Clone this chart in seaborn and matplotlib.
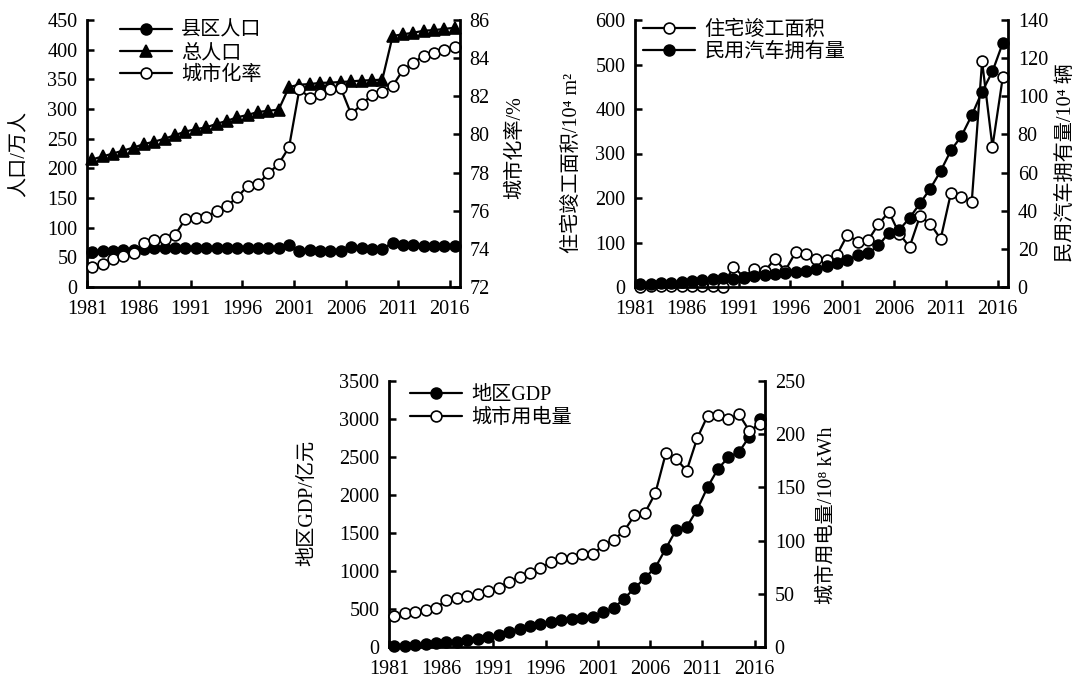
import matplotlib
matplotlib.use("Agg")
import matplotlib.pyplot as plt
import seaborn as sns

# ---- data (1981-2016) ----
years = list(range(1981, 2017))
tick_years = [1981, 1986, 1991, 1996, 2001, 2006, 2011, 2016]

# 县区人口 / 万人
county_pop = [58.5, 60, 61, 62.5, 63, 64, 65, 65.5, 65.5, 65.5,
              65.5, 66, 66, 66, 66.5, 66.5, 66.5, 66, 66, 71.5,
              60, 62, 61.5, 61, 60.5, 67, 66, 64.5, 63.5, 75,
              71.5, 70, 69.5, 69, 68.5, 69.5]
# 总人口 / 万人
total_pop = [215, 220, 225, 230, 235, 241, 245, 250, 256, 262,
             266, 269, 275, 280, 286, 290, 295, 297, 299, 337,
             341, 342, 344, 344.5, 345.5, 346.5, 348, 348.5, 349.5, 423,
             426, 428.5, 432, 433, 435, 437]
# 城市化率 / %
urban_rate = [73.06, 73.2, 73.47, 73.64, 73.77, 74.32, 74.46, 74.5, 74.73, 75.57,
              75.6, 75.65, 76.0, 76.25, 76.7, 77.3, 77.38, 77.96, 78.45, 79.33,
              82.38, 81.93, 82.12, 82.38, 82.42, 81.06, 81.58, 82.07, 82.24, 82.54,
              83.38, 83.76, 84.13, 84.29, 84.43, 84.6]
# 住宅竣工面积 / 10^4 m^2
housing_area = [1.0, 1.2, 1.5, 1.8, 2.0, 2.2, 2.5, 2.0, 0.5, 46,
                22, 41, 35, 63, 37, 78, 74, 62, 61, 73,
                117, 102, 105, 141, 169, 120, 90, 159, 142, 108,
                212, 202, 191, 507, 315, 472]
# 民用汽车拥有量 / 10^4 辆
vehicles = [1.5, 1.7, 2.0, 2.3, 2.8, 3.1, 3.5, 4.0, 4.6, 4.4,
            4.8, 5.7, 6.4, 7.0, 7.4, 7.9, 8.3, 9.5, 10.8, 12.5,
            14.0, 16.8, 17.6, 21.8, 28.3, 29.9, 36.2, 43.8, 51.6, 60.8,
            71.7, 79.1, 90.0, 102.4, 113.0, 128.0]
# 地区GDP / 亿元
gdp = [17, 17, 26, 39, 48, 61, 70, 92, 105, 127,
       157, 192, 231, 270, 300, 325, 350, 368, 382, 400,
       455, 507, 638, 770, 910, 1045, 1295, 1544, 1579, 1807,
       2103, 2344, 2497, 2563, 2768, 3000]
# 城市用电量 / 10^8 kWh
electricity = [29, 31.5, 33, 34.6, 36.8, 44, 45.6, 47.8, 49.6, 52.7,
               55.9, 61.2, 65.9, 69.6, 74.6, 79.5, 83.3, 84, 87, 87,
               95.5, 100.8, 108.9, 123.6, 126.1, 144.5, 181.9, 176.7, 165.7, 196,
               217.2, 217.8, 214.1, 218.8, 203.2, 209.4]

# ---- style ----
sns.set_theme(style="white")
plt.rcParams["font.family"] = ["Liberation Serif", "Noto Sans CJK SC", "DejaVu Serif"]
plt.rcParams["axes.unicode_minus"] = False
plt.rcParams["axes.edgecolor"] = "black"
plt.rcParams["text.color"] = "black"
plt.rcParams["xtick.color"] = "black"
plt.rcParams["ytick.color"] = "black"

FS = 14.5
W, H = 1087, 677
fig = plt.figure(figsize=(W / 100, H / 100), dpi=100)
fig.patch.set_facecolor("white")


def make_axes(left, top, right, bottom):
    ax = fig.add_axes([left / W, 1 - bottom / H, (right - left) / W, (bottom - top) / H])
    ax2 = ax.twinx()
    return ax, ax2


def draw(ax, values, kind):
    face = {"filled": "black", "open": "white", "tri": "black"}[kind]
    marker = "^" if kind == "tri" else "o"
    sns.lineplot(x=years, y=values, ax=ax, errorbar=None, color="black",
                 linewidth=1.6, marker=marker, markersize=7.8 if kind != "tri" else 8.0,
                 markerfacecolor=face, markeredgecolor="black",
                 markeredgewidth=1.2, clip_on=False)
    return ax.lines[-1]


def finish(ax, ax2, ylim, yticks, ylim2, yticks2):
    ax.set_xlim(1980.5, 2016.5)
    ax.set_xticks([y - 0.5 for y in tick_years])
    ax.set_xticklabels([str(y) for y in tick_years])
    ax.set_ylim(*ylim)
    ax.set_yticks(yticks)
    ax.set_yticklabels([str(v) for v in yticks])
    ax2.set_ylim(*ylim2)
    ax2.set_yticks(yticks2)
    ax2.set_yticklabels([str(v) for v in yticks2])
    for a in (ax, ax2):
        a.set_xlabel("")
        a.set_ylabel("")
        a.spines["top"].set_visible(False)
        for s in a.spines.values():
            s.set_linewidth(2.0)
            s.set_color("black")
    ax.spines["right"].set_visible(False)
    ax2.spines["left"].set_visible(False)
    ax2.spines["bottom"].set_visible(False)
    ax.tick_params(axis="y", which="major", direction="in", length=5, width=1.8,
                   labelsize=FS, pad=7, left=True, right=False)
    ax.tick_params(axis="x", which="major", direction="in", length=5, width=1.8,
                   labelsize=FS, pad=9, bottom=True, top=False)
    ax2.tick_params(axis="y", which="major", direction="in", length=5, width=1.8,
                    labelsize=FS, pad=7, right=True, left=False)
    ax.patch.set_alpha(0)
    ax2.patch.set_alpha(0)


def legend(ax2, handles, labels, x, y):
    ax2.legend(handles, labels, loc="upper left", bbox_to_anchor=(x, y),
               frameon=False, fontsize=FS, handlelength=2.6, handletextpad=0.45,
               labelspacing=0.15, borderpad=0, borderaxespad=0)


# ---- 人口与城市化率 ----
ax, ax2 = make_axes(87, 20, 460, 287)
h1 = draw(ax, county_pop, "filled")
h2 = draw(ax, total_pop, "tri")
h3 = draw(ax2, urban_rate, "open")
finish(ax, ax2, (0, 450), list(range(0, 451, 50)), (72, 86), list(range(72, 87, 2)))
legend(ax2, [h1, h2, h3], ["县区人口", "总人口", "城市化率"], 0.088, 0.993)
fig.text(20 / W, 1 - 154 / H, "人口/万人", rotation=90, ha="center", va="center", fontsize=FS)
fig.text(516 / W, 1 - 148 / H, "城市化率/%", rotation=90, ha="center", va="center", fontsize=FS)

# ---- 住宅竣工面积与民用汽车 ----
ax, ax2 = make_axes(635, 20, 1008, 287)
h1 = draw(ax, housing_area, "open")
h2 = draw(ax2, vehicles, "filled")
finish(ax, ax2, (0, 600), list(range(0, 601, 100)), (0, 140), list(range(0, 141, 20)))
legend(ax2, [h1, h2], ["住宅竣工面积", "民用汽车拥有量"], 0.021, 0.997)
fig.text(572 / W, 1 - 163 / H, "住宅竣工面积/10⁴ m²", rotation=90, ha="center", va="center", fontsize=FS)
fig.text(1066 / W, 1 - 163 / H, "民用汽车拥有量/10⁴ 辆", rotation=90, ha="center", va="center", fontsize=FS)

# ---- 地区GDP与城市用电量 ----
ax, ax2 = make_axes(389, 381, 765, 647)
h1 = draw(ax, gdp, "filled")
h2 = draw(ax2, electricity, "open")
finish(ax, ax2, (0, 3500), list(range(0, 3501, 500)), (0, 250), list(range(0, 251, 50)))
legend(ax2, [h1, h2], ["地区GDP", "城市用电量"], 0.056, 0.98)
fig.text(308 / W, 1 - 503 / H, "地区GDP/亿元", rotation=90, ha="center", va="center", fontsize=FS)
fig.text(827 / W, 1 - 515 / H, "城市用电量/10⁸ kWh", rotation=90, ha="center", va="center", fontsize=FS)

fig.savefig("out.png", dpi=100, facecolor="white")
